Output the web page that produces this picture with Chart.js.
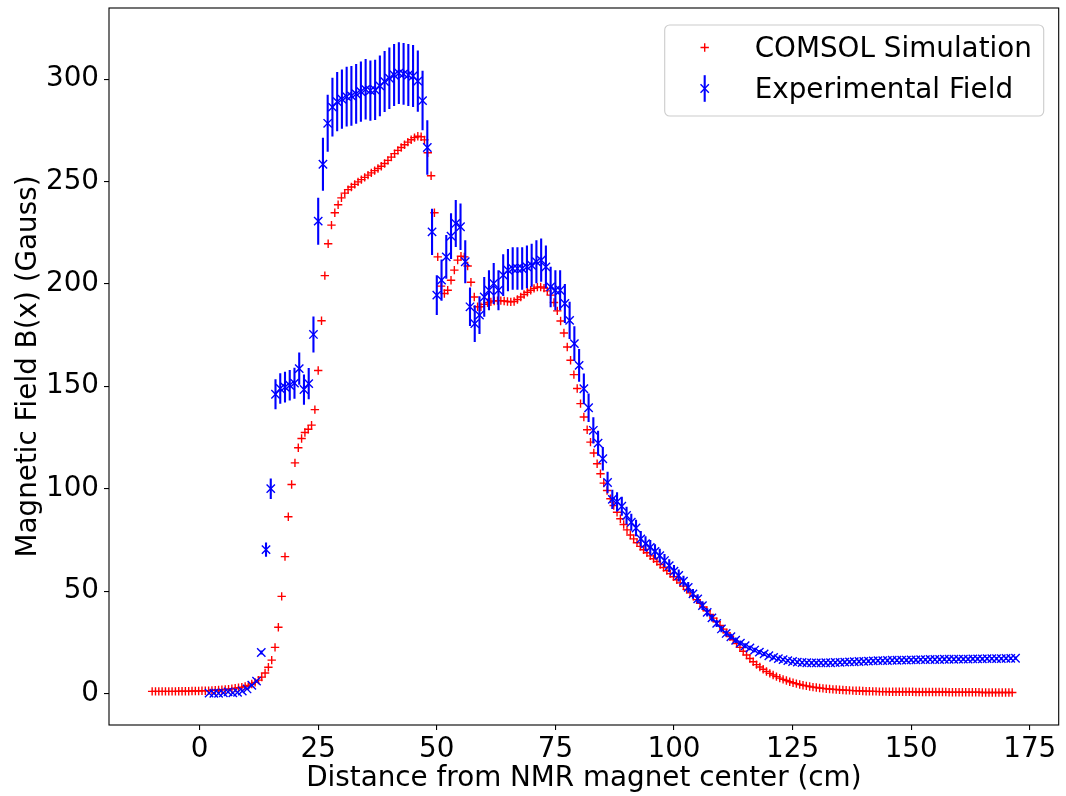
<!DOCTYPE html>
<html><head><meta charset="utf-8">
<script src="https://cdn.jsdelivr.net/npm/chart.js@4"></script>
<style>html,body{margin:0;padding:0;background:#fff}#wrap{width:1066px;height:796px}</style>
</head><body><div id="wrap"><canvas id="c" width="1066" height="796"></canvas></div>
<script>
// ---- data ----
const comsolStart = -10, comsolStep = 0.7;
const comsolB = [
1.0,1.0,1.0,1.0,1.0,1.0,1.0,1.0,1.1,1.1,1.1,1.1,1.2,1.2,1.2,
1.3,1.3,1.4,1.5,1.6,1.7,1.8,1.9,2.1,2.3,2.6,2.8,3.1,3.4,3.9,4.6,5.4,6.5,8.0,10.0,12.8,
16.3,22.5,32.3,47.4,66.8,86.3,102.0,112.6,120.0,124.5,127.4,129.0,131.0,138.6,157.7,182.0,204.0,219.6,228.7,234.7,238.6,
242.0,244.3,246.0,247.3,248.6,249.8,250.9,252.0,253.1,254.2,255.3,256.3,257.4,258.8,260.3,261.9,263.6,265.2,266.6,267.9,269.2,270.4,271.4,272.1,271.8,270.3,
264.0,252.8,234.7,213.2,198.9,195.3,196.9,201.8,206.7,211.6,213.5,213.2,208.7,200.8,193.6,188.8,188.8,
190.0,190.8,191.2,191.6,191.8,191.8,191.6,191.4,191.2,191.4,192.4,193.6,194.8,195.9,196.9,197.8,198.4,198.5,197.9,196.6,194.5,
190.9,186.8,181.9,176.0,169.2,162.7,155.7,148.9,141.5,135.0,128.8,122.7,117.4,112.2,107.3,102.7,99.1,95.1,91.8,88.5,85.3,82.5,79.9,77.4,75.5,73.6,
71.8,70.2,68.7,67.2,65.8,64.4,63.0,61.5,60.0,58.5,57.0,55.5,54.0,52.4,50.8,49.1,47.5,45.8,44.0,42.2,40.4,38.6,36.8,35.0,33.2,31.4,29.6,27.8,26.2,
24.4,22.5,20.6,18.8,17.1,15.5,14.1,12.9,11.8,10.7,9.8,9.0,8.2,7.5,6.9,6.3,5.7,5.2,4.8,4.4,4.0,3.7,3.4,3.1,2.9,2.7,2.5,2.3,2.2,2.0,1.9,1.8,1.7,1.6,1.5,1.4,1.3,1.3,1.2,1.1,1.1,1.0,1.0,0.9,0.9,
0.9,0.8,0.8,0.8,0.8,0.8,0.8,0.8,0.8,0.7,0.7,0.7,0.7,0.7,0.7,0.7,0.7,0.7,0.7,
0.6,0.6,0.6,0.6,0.6,0.6,0.6,0.6,0.6,0.6,0.5,0.5,0.5,0.5,0.5,0.5,0.5,0.5,0.5,0.5
];
const expStart = 2;
const expB = [
0.2,0.1,0.1,0.3,0.8,0.3,0.5,1.2,2.2,4.0,6.0,
20.0,70.2,100.0,146.1,148.9,149.6,150.5,151.5,158.6,148.4,151.3,175.3,
230.6,258.4,278.4,286.3,289.0,290.2,291.4,291.8,292.8,293.9,295.0,294.4,294.7,296.7,298.8,300.4,302.0,302.9,302.5,302.0,301.5,299.0,
289.5,266.6,225.4,194.5,201.8,213.2,223.3,229.5,227.9,210.8,188.8,180.6,184.7,193.6,196.9,200.2,196.9,204.3,206.7,207.5,207.5,207.5,208.3,209.1,210.8,211.6,208.3,
198.5,196.9,196.9,190.4,182.2,170.8,160.2,148.8,139.5,128.5,122.2,114.6,103.0,94.8,93.6,91.4,86.9,83.6,80.8,75.5,73.1,71.3,69.4,67.3,64.9,62.4,59.7,
57.6,54.8,51.8,48.6,46.2,42.9,39.6,36.9,34.2,31.5,29.3,27.7,26.0,24.6,23.3,22.2,21.2,20.2,19.3,18.4,17.6,17.0,16.5,16.0,
15.6,15.3,15.1,15.0,14.9,14.9,14.9,15.0,15.0,15.1,15.2,15.3,15.4,15.5,15.6,15.7,15.8,15.9,16.0,16.0,
16.1,16.2,16.2,16.3,16.3,16.4,16.4,16.5,16.5,16.6,16.6,16.6,16.7,16.7,16.7,16.8,16.8,16.8,16.9,16.9,
16.9,17.0,17.0,17.0,17.0,17.1,17.1,17.2
];
const expErr = [
0.0,0.0,0.0,0.0,0.0,0.0,0.0,0.1,0.1,0.2,0.3,
1.0,3.5,5.0,7.3,7.4,7.5,7.5,7.6,7.9,7.4,7.6,8.8,
11.5,12.9,13.9,14.3,14.5,14.5,14.6,14.6,14.6,14.7,14.8,14.7,14.7,14.8,14.9,15.0,15.1,15.1,15.1,15.1,15.1,15.0,
14.5,13.3,11.3,9.7,10.1,10.7,11.2,11.5,11.4,10.5,9.4,9.0,9.2,9.7,9.8,10.0,9.8,10.2,10.3,10.4,10.4,10.4,10.4,10.5,10.5,10.6,10.4,
9.9,9.8,9.8,9.5,9.1,8.5,8.0,7.4,7.0,6.4,6.1,5.7,5.2,4.7,4.7,4.6,4.3,4.2,4.0,3.8,3.7,3.6,3.5,3.4,3.2,3.1,3.0,
2.9,2.7,2.6,2.4,2.3,2.1,2.0,1.8,1.7,1.6,1.5,1.4,1.3,1.2,1.2,1.1,1.1,1.0,1.0,0.9,0.9,0.9,0.8,0.8,
0.8,0.8,0.8,0.8,0.8,0.8,0.8,0.8,0.8,0.8,0.8,0.8,0.8,0.8,0.8,0.8,0.8,0.8,0.8,0.8,
0.8,0.8,0.8,0.8,0.8,0.8,0.8,0.8,0.8,0.8,0.8,0.8,0.8,0.8,0.8,0.8,0.8,0.8,0.8,0.8,
0.8,0.8,0.8,0.8,0.8,0.8,0.8,0.8
];
const xTicks = [0,25,50,75,100,125,150,175];
const yTicks = [0,50,100,150,200,250,300];
const seriesNames = ['COMSOL Simulation','Experimental Field'];
const xLabel = 'Distance from NMR magnet center (cm)';
const yLabel = 'Magnetic Field B(x) (Gauss)';

// ---- chart ----
const FS = 27.8;
const RED = '#ff0000', BLUE = '#0000ff';
Chart.defaults.font.family = "'DejaVu Sans', sans-serif";
Chart.defaults.color = '#000';

const comsolPts = comsolB.map((y, i) => ({x: +(comsolStart + i * comsolStep).toFixed(2), y}));
const expPts = expB.map((y, i) => ({x: expStart + i, y}));

function crossAt(ctx, x, y, r, rot) {
  ctx.beginPath();
  if (rot) {
    const d = r * Math.SQRT1_2;
    ctx.moveTo(x - d, y - d); ctx.lineTo(x + d, y + d);
    ctx.moveTo(x - d, y + d); ctx.lineTo(x + d, y - d);
  } else {
    ctx.moveTo(x - r, y); ctx.lineTo(x + r, y);
    ctx.moveTo(x, y - r); ctx.lineTo(x, y + r);
  }
  ctx.stroke();
}

const errorBarPlugin = {
  id: 'errbars',
  beforeDatasetDraw(chart, args) {
    if (args.index !== 1) return;
    const {ctx, scales: {x, y}} = chart;
    ctx.save();
    ctx.strokeStyle = BLUE; ctx.lineWidth = 2.1; ctx.lineCap = 'butt';
    ctx.beginPath();
    expB.forEach((v, i) => {
      const e = expErr[i];
      if (e <= 0) return;
      const px = x.getPixelForValue(expStart + i);
      ctx.moveTo(px, y.getPixelForValue(v - e));
      ctx.lineTo(px, y.getPixelForValue(v + e));
    });
    ctx.stroke();
    ctx.restore();
  }
};

const framePlugin = {
  id: 'frame',
  afterDatasetsDraw(chart) {
    const {ctx, chartArea: a} = chart;
    ctx.save();
    ctx.strokeStyle = '#000'; ctx.lineWidth = 1.1;
    ctx.strokeRect(a.left, a.top, a.right - a.left, a.bottom - a.top);
    ctx.restore();
  }
};

const legendPlugin = {
  id: 'customLegend',
  afterDraw(chart) {
    const {ctx, chartArea: a} = chart;
    const bw = 379, bh = 91;
    const bx = a.right - 15 - bw, by = a.top + 17;
    ctx.save();
    ctx.beginPath();
    ctx.roundRect(bx, by, bw, bh, 5);
    ctx.fillStyle = 'rgba(255,255,255,0.8)';
    ctx.fill();
    ctx.strokeStyle = '#cccccc'; ctx.lineWidth = 1.1;
    ctx.stroke();
    const mx = bx + 40, tx = bx + 90;
    ctx.strokeStyle = RED; ctx.lineWidth = 1.4;
    crossAt(ctx, mx, by + 22.5, 4.2, false);
    const cy2 = by + 63.5;
    ctx.strokeStyle = BLUE; ctx.lineWidth = 2.1;
    ctx.beginPath(); ctx.moveTo(mx, cy2 - 13.3); ctx.lineTo(mx, cy2 + 13.3); ctx.stroke();
    ctx.lineWidth = 1.4;
    crossAt(ctx, mx, cy2, 5.9, true);
    ctx.fillStyle = '#000';
    ctx.font = FS + "px 'DejaVu Sans'";
    ctx.textAlign = 'left'; ctx.textBaseline = 'alphabetic';
    ctx.fillText(seriesNames[0], tx, by + 31.7);
    ctx.fillText(seriesNames[1], tx, by + 73.3);
    ctx.restore();
  }
};

new Chart(document.getElementById('c'), {
  type: 'scatter',
  data: {
    datasets: [
      {label: seriesNames[0], data: comsolPts, pointStyle: 'cross', pointRadius: 4.2,
       borderColor: RED, backgroundColor: RED, pointBorderWidth: 1.4, order: 2, showLine: false},
      {label: seriesNames[1], data: expPts, pointStyle: 'crossRot', pointRadius: 5.9,
       borderColor: BLUE, backgroundColor: BLUE, pointBorderWidth: 1.4, order: 1, showLine: false}
    ]
  },
  options: {
    responsive: false, animation: false, devicePixelRatio: 1, events: [],
    layout: {padding: {top: 8, right: 4, left: 0, bottom: 0}},
    plugins: {legend: {display: false}, tooltip: {enabled: false}},
    scales: {
      x: {
        type: 'linear', min: -19.1, max: 181.1,
        afterBuildTicks: s => { s.ticks = xTicks.map(v => ({value: v})); },
        afterFit: s => { s.height = 71; s.paddingLeft = 0; s.paddingRight = 0; },
        grid: {drawOnChartArea: false, drawTicks: true, tickLength: 5, color: '#000', lineWidth: 1.1},
        border: {display: false},
        ticks: {font: {size: FS}, padding: 3, maxRotation: 0, autoSkip: false, color: '#000'},
        title: {display: true, text: xLabel, font: {size: FS}, color: '#000', padding: {top: 0, bottom: 1}}
      },
      y: {
        type: 'linear', min: -15.4, max: 334.7,
        afterBuildTicks: s => { s.ticks = yTicks.map(v => ({value: v})); },
        afterFit: s => { s.width = 109; s.paddingTop = 0; s.paddingBottom = 0; },
        grid: {drawOnChartArea: false, drawTicks: true, tickLength: 5, color: '#000', lineWidth: 1.1},
        border: {display: false},
        ticks: {font: {size: FS}, padding: 5, autoSkip: false, color: '#000'},
        title: {display: true, text: yLabel, font: {size: FS}, color: '#000', padding: {top: 12, bottom: 0}}
      }
    }
  },
  plugins: [errorBarPlugin, framePlugin, legendPlugin]
});
</script>
</body></html>
